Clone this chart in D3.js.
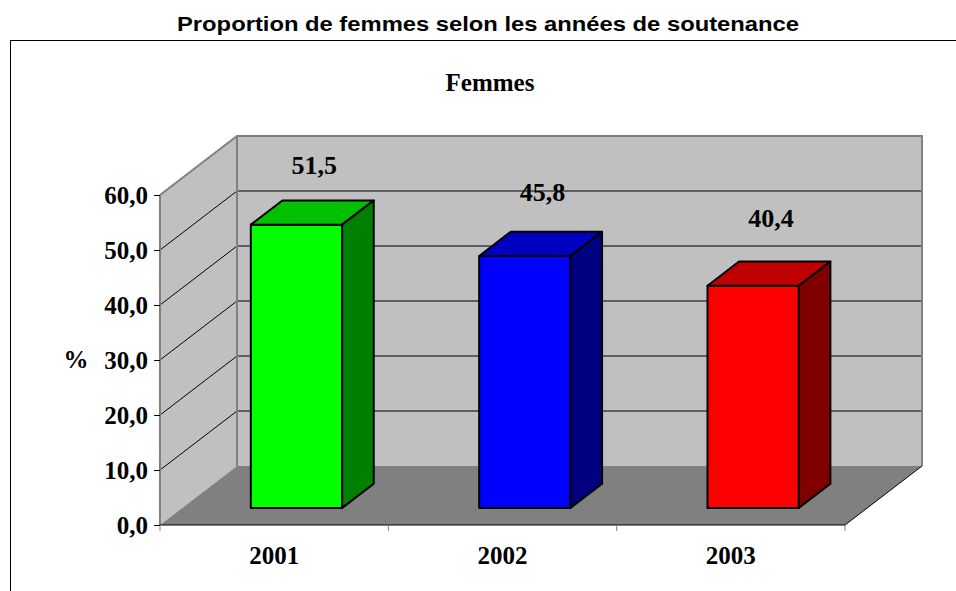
<!DOCTYPE html>
<html>
<head>
<meta charset="utf-8">
<script src="https://cdnjs.cloudflare.com/ajax/libs/d3/7.8.5/d3.min.js"></script>
<style>
body { margin: 0; background: #fff; }
</style>
</head>
<body>
<svg class="chart" width="956" height="591"></svg>
<script>
var years = ["2001", "2002", "2003"];
var values = [51.5, 45.8, 40.4];
var labels = ["51,5", "45,8", "40,4"];
var frontColors = ["#00ff00", "#0000ff", "#ff0000"];
var topColors = ["#00c000", "#0000c0", "#c00000"];
var sideColors = ["#008000", "#000080", "#800000"];
var yTicks = [0, 10, 20, 30, 40, 50, 60];

function drawChart() {
var svg = d3.select(".chart"),
    plotLeft = 160, plotRight = 845, plotBottom = 525, plotTop = 195,
    depthX = 77, depthY = -59;

// shift a front-plane point backwards by depth d (0 = front, 1 = back wall)
function back(p, d) { return [p[0] + depthX * d, p[1] + depthY * d]; }

var x = d3.scaleBand()
    .domain(years)
    .range([plotLeft, plotRight])
    .paddingInner(0.6)
    .paddingOuter(0.3);

var y = d3.scaleLinear()
    .domain([0, 60])
    .range([plotBottom, plotTop]);

// value labels sit in perspective above the bars (baseline)
var yLabel = d3.scaleLinear()
    .domain([0, 60])
    .range([420, 133]);

var line = d3.line();
var serif = "Liberation Serif, Times New Roman, serif";

svg.append("text")
    .attr("x", 488).attr("y", 31)
    .attr("text-anchor", "middle")
    .attr("font-family", "Liberation Sans, Arial, sans-serif")
    .attr("font-weight", "bold")
    .attr("font-size", 21)
    .attr("textLength", 622)
    .attr("lengthAdjust", "spacingAndGlyphs")
    .text("Proportion de femmes selon les années de soutenance");

svg.append("rect")
    .attr("x", 10.5).attr("y", 40.5)
    .attr("width", 1000).attr("height", 600)
    .attr("fill", "#fff")
    .attr("stroke", "#000")
    .attr("stroke-width", 1);

svg.append("text")
    .attr("x", 490).attr("y", 91)
    .attr("text-anchor", "middle")
    .attr("font-family", serif)
    .attr("font-weight", "bold")
    .attr("font-size", 25)
    .text("Femmes");

var g = svg.append("g");

// back wall
var bl = back([plotLeft, y(0)], 1), br = back([plotRight, y(0)], 1),
    tl = back([plotLeft, y(60)], 1), tr = back([plotRight, y(60)], 1);
g.append("path")
    .attr("d", line([bl, br, tr, tl]) + "Z")
    .attr("fill", "#c0c0c0");

// side wall
g.append("path")
    .attr("d", line([[plotLeft, y(0)], bl, tl, [plotLeft, y(60)]]) + "Z")
    .attr("fill", "#c0c0c0");

// floor
g.append("path")
    .attr("d", line([[plotLeft, y(0)], [plotRight, y(0)], br, bl]) + "Z")
    .attr("fill", "#808080");

// gridlines on walls
yTicks.slice(1, -1).forEach(function(t) {
  var a = [plotLeft, y(t)], b = back(a, 1), c = back([plotRight, y(t)], 1);
  g.append("path")
      .attr("d", line([a, b, c]))
      .attr("fill", "none")
      .attr("stroke", "#000")
      .attr("stroke-width", 1);
});

// wall borders
g.append("path")
    .attr("d", line([[plotLeft, y(60)], tl, tr, br]))
    .attr("fill", "none")
    .attr("stroke", "#808080")
    .attr("stroke-width", 2);
g.append("path")
    .attr("d", line([tl, bl]))
    .attr("stroke", "#808080").attr("stroke-width", 2);
g.append("path")
    .attr("d", line([[plotLeft, y(0)], [plotLeft, y(60)]]))
    .attr("stroke", "#808080").attr("stroke-width", 2);

// floor right edge
g.append("path")
    .attr("d", line([[plotRight, y(0)], br]))
    .attr("stroke", "#000").attr("stroke-width", 1);

// bars
var d0 = 0.29, d1 = 0.7;
years.forEach(function(yr, i) {
  var x0 = x(yr), x1 = x(yr) + x.bandwidth(),
      fb0 = back([x0, y(0)], d0), fb1 = back([x1, y(0)], d0),
      ft0 = back([x0, y(values[i])], d0), ft1 = back([x1, y(values[i])], d0),
      bt0 = back([x0, y(values[i])], d1), bt1 = back([x1, y(values[i])], d1),
      bb1 = back([x1, y(0)], d1);
  var bar = g.append("g")
      .attr("stroke", "#000")
      .attr("stroke-width", 2)
      .attr("stroke-linejoin", "round");
  bar.append("path")
      .attr("d", line([fb0, fb1, ft1, ft0]) + "Z")
      .attr("fill", frontColors[i]);
  bar.append("path")
      .attr("d", line([ft0, ft1, bt1, bt0]) + "Z")
      .attr("fill", topColors[i]);
  bar.append("path")
      .attr("d", line([fb1, bb1, bt1, ft1]) + "Z")
      .attr("fill", sideColors[i]);

  var lp = back([x0 + x.bandwidth() / 2, y(values[i])], (d0 + d1) / 2);
  g.append("text")
      .attr("x", lp[0] + 2).attr("y", yLabel(values[i]))
      .attr("text-anchor", "middle")
      .attr("font-family", serif)
      .attr("font-weight", "bold")
      .attr("font-size", 26)
      .text(labels[i]);
});

// x axis
var xAxis = svg.append("g");
xAxis.append("path")
    .attr("d", line([[plotLeft, y(0)], [plotRight, y(0)]]))
    .attr("stroke", "#000").attr("stroke-width", 1);
var xEdges = [plotLeft].concat(years.map(function(yr) { return x(yr) + x.bandwidth() + x.step() * 0.3; }));
xEdges.forEach(function(e) {
  xAxis.append("path")
      .attr("d", line([[e, y(0)], [e, y(0) + 6]]))
      .attr("stroke", "#808080").attr("stroke-width", 1);
});
years.forEach(function(yr) {
  xAxis.append("text")
      .attr("x", x(yr) + x.bandwidth() / 2)
      .attr("y", 564)
      .attr("text-anchor", "middle")
      .attr("font-family", serif)
      .attr("font-weight", "bold")
      .attr("font-size", 25)
      .text(yr);
});

// y axis
var yAxis = svg.append("g")
    .attr("transform", "translate(" + plotLeft + ",0)")
    .call(d3.axisLeft(y).tickValues(yTicks).tickSize(6)
      .tickFormat(function(d) { return d3.format(".1f")(d).replace(".", ","); }));
yAxis.select(".domain").remove();
yAxis.selectAll("line").attr("stroke", "#000");
yAxis.selectAll("text")
    .attr("font-family", serif)
    .attr("font-weight", "bold")
    .attr("font-size", 25)
    .attr("fill", "#000")
    .attr("x", -12);

svg.append("text")
    .attr("x", 76).attr("y", y(30) + 8)
    .attr("text-anchor", "middle")
    .attr("font-family", serif)
    .attr("font-weight", "bold")
    .attr("font-size", 25)
    .text("%");
}
drawChart();
</script>
</body>
</html>
